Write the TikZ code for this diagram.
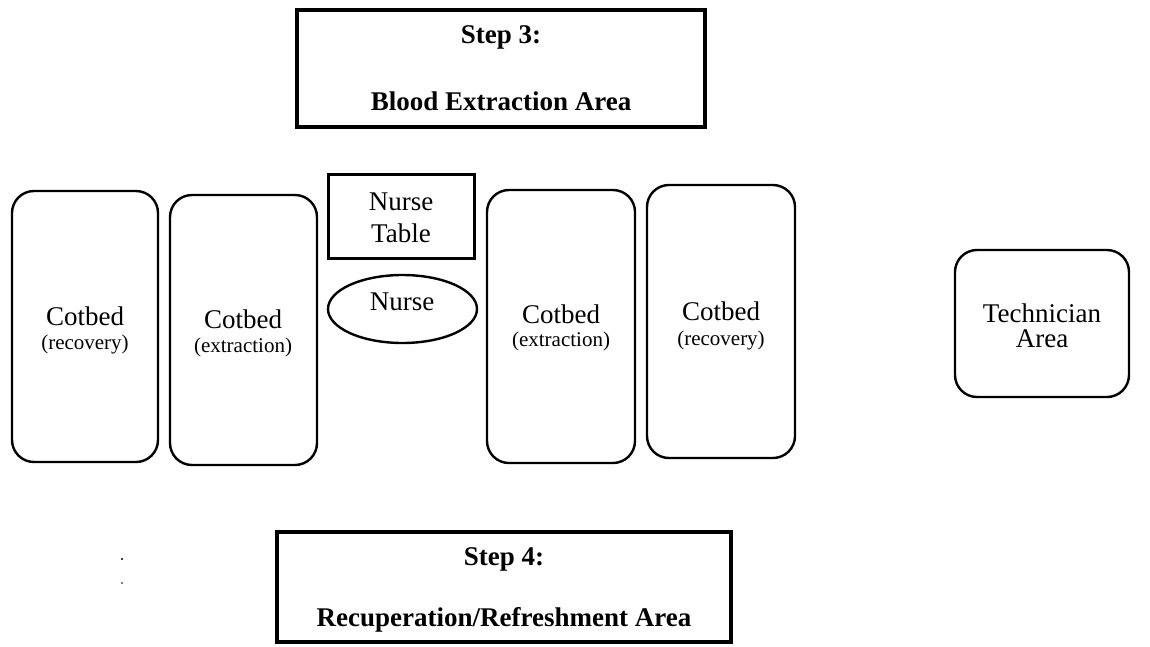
\documentclass[tikz,border=0pt]{standalone}
\usepackage{fontspec}
\setmainfont{Liberation Serif}
\usetikzlibrary{shapes.geometric}
\begin{document}
\begin{tikzpicture}[x=1pt,y=-1pt,
  bedbox/.style={draw, line width=2.4pt, rounded corners=22pt, inner sep=0pt, outer sep=0pt},
  plainbox/.style={draw, line width=3pt, inner sep=0pt, outer sep=0pt},
  stepbox/.style={draw, line width=3.4pt, inner sep=0pt, outer sep=0pt},
  ovalbox/.style={draw, ellipse, line width=2.4pt, inner sep=0pt, outer sep=0pt},
  bigtxt/.style={font=\fontsize{27}{31}\selectfont, anchor=base, inner sep=0pt},
  smalltxt/.style={font=\fontsize{21}{24}\selectfont, anchor=base, inner sep=0pt},
  headtxt/.style={font=\bfseries\fontsize{27}{31}\selectfont, anchor=base, inner sep=0pt},
  speck/.style={fill=black, circle, inner sep=0pt, minimum size=2.2pt}
]
\useasboundingbox (0,0) rectangle (1150,646);
\fill[white] (0,0) rectangle (1150,646);

% Step 3
\node[stepbox, minimum width=408pt, minimum height=117pt] (step3) at (501,68.5) {};
\node[headtxt] (step3a) at (501,43) {Step 3:};
\node[headtxt] (step3b) at (501,110) {Blood Extraction Area};

% Cotbeds
\node[bedbox, minimum width=146pt, minimum height=271pt] (cot1) at (85,326.5) {};
\node[bigtxt] (cot1a) at (85,325) {Cotbed};
\node[smalltxt] (cot1b) at (85,349) {(recovery)};

\node[bedbox, minimum width=147pt, minimum height=270pt] (cot2) at (243.5,330) {};
\node[bigtxt] (cot2a) at (243,328) {Cotbed};
\node[smalltxt] (cot2b) at (243,352) {(extraction)};

\node[bedbox, minimum width=148pt, minimum height=273pt] (cot3) at (561,326.5) {};
\node[bigtxt] (cot3a) at (561,323) {Cotbed};
\node[smalltxt] (cot3b) at (561,346) {(extraction)};

\node[bedbox, minimum width=148pt, minimum height=273pt] (cot4) at (721,321.5) {};
\node[bigtxt] (cot4a) at (721,320) {Cotbed};
\node[smalltxt] (cot4b) at (721,345) {(recovery)};

% Nurse table and nurse
\node[plainbox, minimum width=146pt, minimum height=84pt] (table) at (401,216) {};
\node[bigtxt] (tablea) at (401,210) {Nurse};
\node[bigtxt] (tableb) at (401,242) {Table};

\node[ovalbox, minimum width=149pt, minimum height=68pt] (nurse) at (402.5,309) {};
\node[bigtxt] (nursea) at (402,310) {Nurse};

% Technician
\node[bedbox, minimum width=174pt, minimum height=147pt] (tech) at (1042,323.5) {};
\node[bigtxt] (techa) at (1042,322) {Technician};
\node[bigtxt] (techb) at (1042,347) {Area};

% Step 4
\node[stepbox, minimum width=454pt, minimum height=110pt] (step4) at (504,587) {};
\node[headtxt] (step4a) at (504,565) {Step 4:};
\node[headtxt] (step4b) at (504,626) {Recuperation/Refreshment Area};

% scan specks
\node[speck] (dot1) at (122,559) {};
\node[speck, minimum size=1.6pt] (dot2) at (122,583) {};
\end{tikzpicture}
\end{document}
